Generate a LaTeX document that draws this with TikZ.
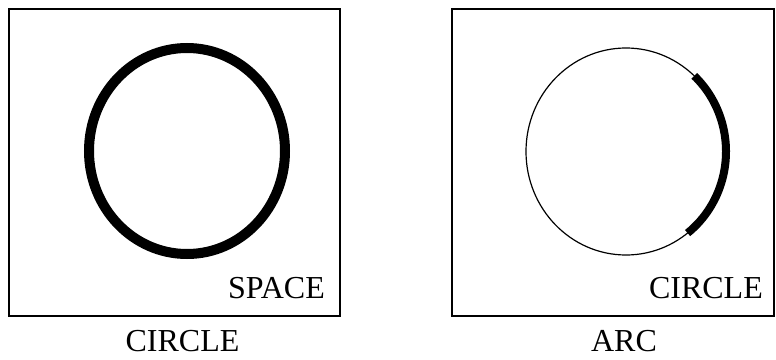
\documentclass[tikz,border=0pt]{standalone}
\usepackage{fontspec}
\setmainfont{Liberation Serif}
\begin{document}
\begin{tikzpicture}[x=1pt, y=-1pt, font=\fontsize{32}{38}\selectfont,
      framebox/.style={draw, line width=1.2pt},
      heavyline/.style={draw, line width=10pt},
      thinline/.style={draw, line width=1.2pt},
      arcline/.style={draw, line width=8pt, line cap=butt},
      labelnode/.style={inner sep=0pt, text depth=0pt, anchor=base}]
    \useasboundingbox (0,0) rectangle (776,359);
    % left panel
    \draw[framebox] (9,9) rectangle (340,316);
    \draw[heavyline] (187,151) ellipse[x radius=98, y radius=103];
    \node[labelnode, anchor=base east] (space) at (325,298) {SPACE};
    \node[labelnode] (circlename) at (182.5,351.5) {CIRCLE};
    % right panel
    \draw[framebox] (452,9) rectangle (774,316);
    \draw[thinline] (626,151.5) ellipse[x radius=100, y radius=103.5];
    \draw[arcline] (626,151.5) ++(-47:100 and 103.5)
      arc[start angle=-47, end angle=52, x radius=100, y radius=103.5];
    \node[labelnode, anchor=base east] (circlein) at (763,298) {CIRCLE};
    \node[labelnode] (arcname) at (624,351.5) {ARC};
\end{tikzpicture}
\end{document}
